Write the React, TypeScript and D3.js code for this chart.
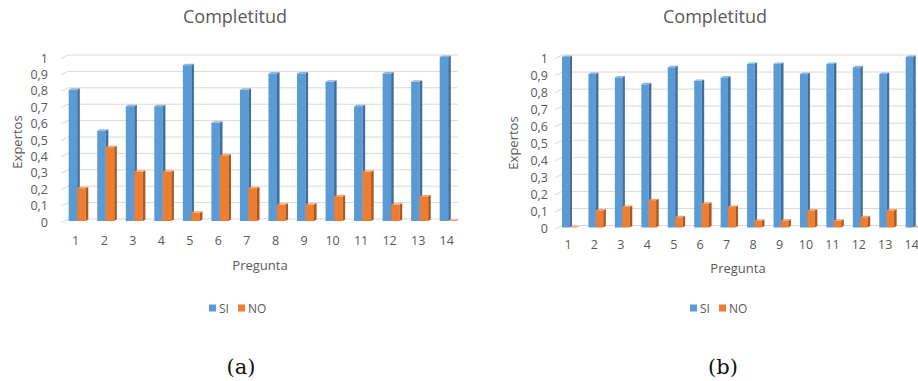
import React from "react";
import * as d3 from "d3";

// Question numbers along the x axis
const categories = ["1", "2", "3", "4", "5", "6", "7", "8", "9", "10", "11", "12", "13", "14"];

// Panel (a): share of experts answering SI / NO per question
const siA = [0.8, 0.55, 0.7, 0.7, 0.95, 0.6, 0.8, 0.9, 0.9, 0.85, 0.7, 0.9, 0.85, 1.0];
const noA = [0.2, 0.45, 0.3, 0.3, 0.05, 0.4, 0.2, 0.1, 0.1, 0.15, 0.3, 0.1, 0.15, 0.0];

// Panel (b)
const siB = [1.0, 0.9, 0.88, 0.84, 0.94, 0.86, 0.88, 0.96, 0.96, 0.9, 0.96, 0.94, 0.9, 1.0];
const noB = [0.0, 0.1, 0.12, 0.16, 0.06, 0.14, 0.12, 0.04, 0.04, 0.1, 0.04, 0.06, 0.1, 0.0];

const yTicks = [0, 0.1, 0.2, 0.3, 0.4, 0.5, 0.6, 0.7, 0.8, 0.9, 1];
const yTickLabels = ["0", "0,1", "0,2", "0,3", "0,4", "0,5", "0,6", "0,7", "0,8", "0,9", "1"];

const seriesNames = ["SI", "NO"];

const FONT = "'Open Sans', 'Noto Sans', sans-serif";
const TEXT = "#595959";
const GRID = "#d9d9d9";

const BLUE = { front: "#5b9bd5", side: "#3f6f9e", top: "#86b5e2" };
const ORANGE = { front: "#ed7d31", side: "#b0581c", top: "#f3a06a" };

type Layout = {
  xRange: [number, number];
  yRange: [number, number];
  gridLeft: number;
  gridRight: number;
  barW: number;
  barOff: number;
  tickX: number;
  yTitleX: number;
  yTitleY: number;
  xLabelY: number;
  xTitleX: number;
  xTitleY: number;
  titleX: number;
  legendX: number;
  legendY: number;
  captionX: number;
  caption: string;
};

const DEPTH = 2.6;
const SLOPE = 0.55;

function Prism({ x0, x1, yTop, yBase, c }: { x0: number; x1: number; yTop: number; yBase: number; c: typeof BLUE }) {
  const dx = DEPTH;
  const dy = DEPTH * SLOPE;
  const side = `M${x1},${yBase}L${x1},${yTop}L${x1 + dx},${yTop - dy}L${x1 + dx},${yBase - dy}Z`;
  const top = `M${x0},${yTop}L${x1},${yTop}L${x1 + dx},${yTop - dy}L${x0 + dx},${yTop - dy}Z`;
  return (
    <g>
      <rect x={x0} y={yTop} width={x1 - x0} height={Math.max(0, yBase - yTop)} fill={c.front} />
      <path d={side} fill={c.side} />
      <path d={top} fill={c.top} />
    </g>
  );
}

function Panel({ L, si, no }: { L: Layout; si: number[]; no: number[] }) {
  const x = d3.scalePoint<string>().domain(categories).range(L.xRange);
  const y = d3.scaleLinear().domain([0, 1]).range(L.yRange);
  const base = y(0);

  return (
    <g>
      <text x={L.titleX} y={23} textAnchor="middle" fontFamily={FONT} fontSize={18} fill={TEXT}>
        Completitud
      </text>

      {/* back-wall gridlines with the perspective return on the left */}
      {yTicks.map((t, i) => (
        <g key={i}>
          <line x1={L.gridLeft - 7} y1={y(t) + 1.5} x2={L.gridLeft} y2={y(t) - 2} stroke={GRID} strokeWidth={1} />
          <line x1={L.gridLeft} y1={y(t) - 2} x2={L.gridRight} y2={y(t) - 2} stroke={GRID} strokeWidth={1} />
          <text x={L.tickX} y={y(t) + 1} textAnchor="end" dominantBaseline="central" fontFamily={FONT} fontSize={12.5} fill={TEXT}>
            {yTickLabels[i]}
          </text>
        </g>
      ))}

      {categories.map((cat, i) => {
        const c = x(cat)!;
        const sx0 = c - L.barOff;
        const sx1 = sx0 + L.barW;
        const nx1 = sx1 + L.barW;
        return (
          <g key={cat}>
            <Prism x0={sx0} x1={sx1} yTop={y(si[i])} yBase={base} c={BLUE} />
            <Prism x0={sx1} x1={nx1} yTop={y(no[i])} yBase={base} c={ORANGE} />
            <text x={c} y={L.xLabelY} textAnchor="middle" dominantBaseline="central" fontFamily={FONT} fontSize={12.5} fill={TEXT}>
              {cat}
            </text>
          </g>
        );
      })}

      <text
        transform={`translate(${L.yTitleX},${L.yTitleY}) rotate(-90)`}
        textAnchor="middle"
        dominantBaseline="central"
        fontFamily={FONT}
        fontSize={13}
        fill={TEXT}
      >
        Expertos
      </text>
      <text x={L.xTitleX} y={L.xTitleY} textAnchor="middle" dominantBaseline="central" fontFamily={FONT} fontSize={13} fill={TEXT}>
        Pregunta
      </text>

      {/* legend */}
      <g transform={`translate(${L.legendX},${L.legendY})`}>
        <rect x={0} y={-3.5} width={7} height={7} fill={BLUE.front} />
        <text x={10} y={0} dominantBaseline="central" fontFamily={FONT} fontSize={12} fill={TEXT}>
          {seriesNames[0]}
        </text>
        <rect x={29} y={-3.5} width={7} height={7} fill={ORANGE.front} />
        <text x={39} y={0} dominantBaseline="central" fontFamily={FONT} fontSize={12} fill={TEXT}>
          {seriesNames[1]}
        </text>
      </g>

      <text x={L.captionX} y={367} textAnchor="middle" dominantBaseline="central" fontFamily="'DejaVu Serif', serif" fontSize={21} fill="#111">
        {L.caption}
      </text>
    </g>
  );
}

const layoutA: Layout = {
  xRange: [75.7, 446.7],
  yRange: [221, 57],
  gridLeft: 68,
  gridRight: 458,
  barW: 8.5,
  barOff: 7,
  tickX: 48,
  yTitleX: 17,
  yTitleY: 142,
  xLabelY: 240,
  xTitleX: 260,
  xTitleY: 265,
  titleX: 235,
  legendX: 209,
  legendY: 308,
  captionX: 241,
  caption: "(a)",
};

const layoutB: Layout = {
  xRange: [568, 911.7],
  yRange: [227.5, 57],
  gridLeft: 562,
  gridRight: 917,
  barW: 7.4,
  barOff: 6,
  tickX: 548,
  yTitleX: 513,
  yTitleY: 143,
  xLabelY: 244,
  xTitleX: 738,
  xTitleY: 268,
  titleX: 715,
  legendX: 690,
  legendY: 308,
  captionX: 723,
  caption: "(b)",
};

export default function App() {
  return (
    <svg width={918} height={381} style={{ position: "absolute", left: 0, top: 0, background: "#fff" }}>
      <rect width={918} height={381} fill="#fff" />
      <Panel L={layoutA} si={siA} no={noA} />
      <Panel L={layoutB} si={siB} no={noB} />
    </svg>
  );
}
